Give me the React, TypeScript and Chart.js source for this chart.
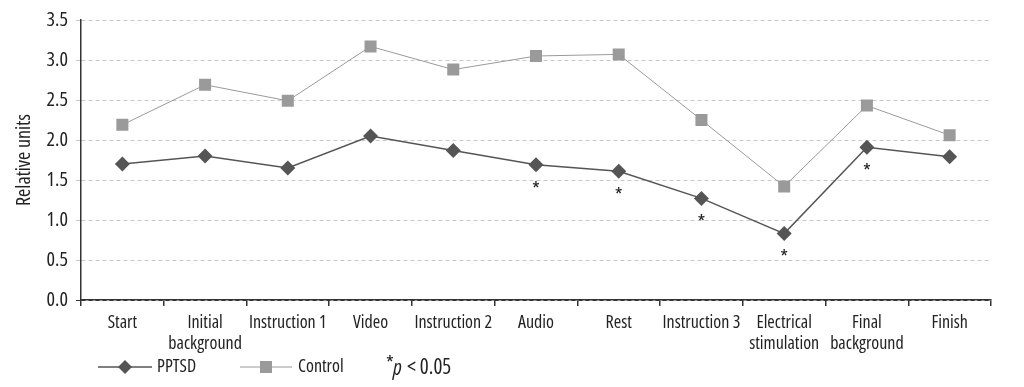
import React, { useEffect, useRef } from "react";
import { Chart, registerables } from "chart.js";

Chart.register(...registerables);

const categories: (string | string[])[] = [
  "Start",
  ["Initial", "background"],
  "Instruction 1",
  "Video",
  "Instruction 2",
  "Audio",
  "Rest",
  "Instruction 3",
  ["Electrical", "stimulation"],
  ["Final", "background"],
  "Finish",
];
const pptsd = [1.7, 1.8, 1.65, 2.05, 1.87, 1.69, 1.61, 1.27, 0.83, 1.91, 1.79];
const control = [2.19, 2.69, 2.49, 3.17, 2.88, 3.05, 3.07, 2.25, 1.42, 2.43, 2.06];
const significant = [false, false, false, false, false, true, true, true, true, true, false];
const yTicks = [0, 0.5, 1, 1.5, 2, 2.5, 3, 3.5];

const FAMILY = "'Open Sans', sans-serif";
const STRETCH = "normal condensed";
const DARK = "#555555";
const LIGHT = "#9a9a9a";

const starPlugin = {
  id: "stars",
  afterDatasetsDraw(chart: any) {
    const ctx = chart.ctx;
    const meta = chart.getDatasetMeta(0);
    ctx.save();
    ctx.fillStyle = "#222";
    ctx.font = `${STRETCH} 20px ${FAMILY}`;
    ctx.textAlign = "center";
    ctx.textBaseline = "top";
    significant.forEach((s, i) => {
      if (!s) return;
      const p = meta.data[i];
      ctx.fillText("*", p.x, p.y + 15);
    });
    ctx.restore();
  },
};

const legendPlugin = {
  id: "customLegend",
  afterDraw(chart: any) {
    const ctx = chart.ctx;
    const y = 367;
    ctx.save();
    // PPTSD
    ctx.strokeStyle = DARK;
    ctx.lineWidth = 1.5;
    ctx.beginPath();
    ctx.moveTo(98, y);
    ctx.lineTo(152, y);
    ctx.stroke();
    ctx.fillStyle = DARK;
    ctx.beginPath();
    ctx.moveTo(125 - 7, y);
    ctx.lineTo(125, y - 7);
    ctx.lineTo(125 + 7, y);
    ctx.lineTo(125, y + 7);
    ctx.closePath();
    ctx.fill();
    // Control
    ctx.strokeStyle = LIGHT;
    ctx.lineWidth = 1;
    ctx.beginPath();
    ctx.moveTo(240, y);
    ctx.lineTo(292, y);
    ctx.stroke();
    ctx.fillStyle = LIGHT;
    ctx.fillRect(266 - 6, y - 6, 12, 12);
    // text
    ctx.fillStyle = "#222";
    ctx.font = `${STRETCH} 18px ${FAMILY}`;
    ctx.textBaseline = "middle";
    ctx.textAlign = "left";
    ctx.fillText("PPTSD", 157, y);
    ctx.fillText("Control", 298, y);
    ctx.font = `${STRETCH} 20px ${FAMILY}`;
    ctx.fillText("*", 386, y - 3);
    ctx.font = `italic ${STRETCH} 21px ${FAMILY}`;
    ctx.fillText("p", 393, y + 2);
    ctx.font = `${STRETCH} 21px ${FAMILY}`;
    ctx.fillText("< 0.05", 407, y + 1);
    ctx.restore();
  },
};

export default function App() {
  const ref = useRef<HTMLCanvasElement>(null);
  useEffect(() => {
    document.body.style.margin = "0";
    const chart = new Chart(ref.current!, {
      type: "line",
      data: {
        labels: categories as any,
        datasets: [
          {
            label: "PPTSD",
            data: pptsd,
            borderColor: DARK,
            backgroundColor: DARK,
            borderWidth: 1.5,
            pointStyle: "rectRot",
            pointRadius: 7.5,
            pointBorderWidth: 0,
            pointBackgroundColor: DARK,
            tension: 0,
          },
          {
            label: "Control",
            data: control,
            borderColor: LIGHT,
            backgroundColor: LIGHT,
            borderWidth: 1,
            pointStyle: "rect",
            pointRadius: 8.5,
            pointBorderWidth: 0,
            pointBackgroundColor: LIGHT,
            tension: 0,
          },
        ],
      },
      options: {
        animation: false,
        responsive: false,
        maintainAspectRatio: false,
        layout: { padding: { top: 19, right: 33, left: 0, bottom: 0 } },
        plugins: {
          legend: { display: false },
          tooltip: { enabled: false },
        },
        scales: {
          x: {
            offset: true,
            grid: {
              offset: true,
              drawOnChartArea: false,
              drawTicks: true,
              tickLength: 6,
              color: "#333",
              lineWidth: 1.5,
            },
            border: { color: "#333", width: 1.5 },
            ticks: {
              color: "#222",
              font: { family: FAMILY, weight: STRETCH as any, size: 18, lineHeight: 1.15 },
              padding: 7,
              maxRotation: 0,
              autoSkip: false,
            },
            afterFit(s: any) {
              s.height = 87;
            },
          },
          y: {
            min: 0,
            max: 3.5,
            afterBuildTicks(s: any) {
              s.ticks = yTicks.map((v) => ({ value: v }));
            },
            grid: {
              color: (c: any) => (c.tick && c.tick.value === 0 ? "#333" : "#c8c8c8"),
              lineWidth: 1,
              tickLength: 5,
              tickBorderDash: [4, 3],
            },
            border: { color: "#333", width: 1.5, dash: [4, 3] },
            ticks: {
              color: "#222",
              font: { family: FAMILY, weight: STRETCH as any, size: 20 },
              padding: 8,
              callback: (v: any) => Number(v).toFixed(1),
            },
            title: {
              display: true,
              text: "Relative units",
              color: "#222",
              font: { family: FAMILY, weight: STRETCH as any, size: 20 },
              padding: { top: 12, bottom: 0 },
            },
            afterFit(s: any) {
              s.width = 81;
            },
          },
        },
      },
      plugins: [starPlugin, legendPlugin],
    });
    return () => chart.destroy();
  }, []);
  return <canvas ref={ref} width={1024} height={387} style={{ display: "block" }} />;
}
